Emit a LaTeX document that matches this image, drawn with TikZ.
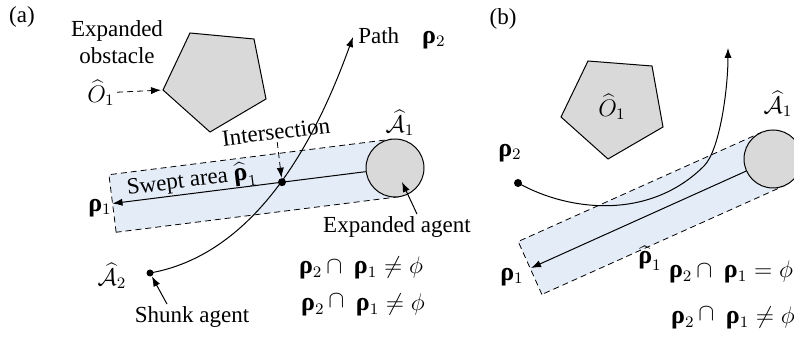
\documentclass[tikz,border=0pt]{standalone}
\usepackage{fontspec}
\setmainfont{Liberation Serif}
\usepackage{tikz}
\usepackage{xcolor}
\usetikzlibrary{arrows.meta,calc}
\definecolor{sweptblue}{RGB}{228,236,248}
\definecolor{shapegray}{RGB}{217,217,217}
\newcommand{\rhob}{{\fontsize{13}{15}\selectfont\textbf{ρ}}}

\begin{document}
\begin{tikzpicture}[x=0.5pt,y=0.5pt,line width=0.5pt,
        lbl/.style={inner sep=1pt,align=center,font=\fontsize{11.5}{13.5}\selectfont},
        obst/.style={draw,fill=shapegray},
        agent/.style={circle,draw,fill=shapegray,minimum size=29pt,inner sep=0pt},
        swept/.style={draw,densely dashed,fill=sweptblue,line width=0.4pt},
        dot/.style={circle,fill,inner sep=0pt,minimum size=#1},
        arrow/.style={-{Latex[length=5pt,width=3.6pt]}},
        dasharrow/.style={arrow,densely dashed,line width=0.4pt}]
        \clip (0,0) rectangle (794,338);
        % (a)
        \node[lbl] (tagA) at (22,321) {(a)};
        \coordinate (pa1) at (190,305);
        \coordinate (pa2) at (254,299);
        \coordinate (pa3) at (266,239);
        \coordinate (pa4) at (210,206);
        \coordinate (pa5) at (163,248);
        \filldraw[obst] (pa1) -- (pa2) -- (pa3) -- (pa4) -- (pa5) -- cycle;
        \begin{scope}[shift={(395,170)},rotate=7.16]
          \filldraw[swept] (-284.7,-29) rectangle (0,29);
        \end{scope}
        \node[agent] (agA) at (395,170) {};
        \coordinate (endA) at (112.5,134.5);
        \draw[arrow] (agA) -- (endA);
        \node[dot=4pt] (isA) at ($(agA.center)!0.4!(endA)$) {};
        \node[dot=3.5pt] (startA) at (150,65) {};
        \coordinate (tipA) at (353,301);
        \draw[arrow] (startA.center) .. controls (268.2,85.8) and (325.6,225.8) .. (tipA);
        \node[lbl] (expO) at (117,296) {Expanded\\obstacle};
        \node[lbl] (oA) at (101,245) {$\widehat{O}_1$};
        \draw[dasharrow,shorten >=1pt] (oA) -- (pa5);
        \node[lbl,rotate=7] (isLbl) at (276,206) {Intersection};
        \draw[dasharrow] (isLbl.south) -- (isA);
        \node[lbl,rotate=7.16] (sweptLbl) at (192,157) {Swept area $\widehat{\mbox{\rhob}}_1$};
        \node[lbl] (rA) at (100,130) {\rhob$_1$};
        \node[lbl] (aA1) at (400,215) {$\widehat{\mathcal{A}}_1$};
        \node[lbl] (pathLbl) at (402,300) {Path\quad\rhob$_2$};
        \node[lbl] (expAg) at (397,111) {Expanded agent};
        \coordinate (inA) at (402,156);
        \draw[arrow] ([xshift=10pt]expAg.north) -- (inA);
        \node[lbl] (aA2) at (112,62) {$\widehat{\mathcal{A}}_2$};
        \node[lbl] (shunk) at (192,21) {Shunk agent};
        \draw[arrow] ([xshift=-12.5pt]shunk.north) -- (startA);
        \node[lbl] (eqA1) at (361,70) {\rhob$_2\,\cap$\ \ \rhob$_1\neq\phi$};
        \node[lbl] (eqA2) at (363,33) {\rhob$_2$\,\raisebox{1.5pt}{$\cap$}\ \ \rhob$_1\neq\phi$};
        % (b)
        \node[lbl] (tagB) at (503,319) {(b)};
        \coordinate (pb1) at (588,277);
        \coordinate (pb2) at (652,272);
        \coordinate (pb3) at (663,211);
        \coordinate (pb4) at (608,179);
        \coordinate (pb5) at (561,221);
        \filldraw[obst] (pb1) -- (pb2) -- (pb3) -- (pb4) -- (pb5) -- cycle;
        \node[lbl] (oB) at (612,231) {$\widehat{O}_1$};
        \begin{scope}[shift={(773,179)},rotate=24.16]
          \filldraw[swept] (-266.3,-29) rectangle (0,29);
        \end{scope}
        \node[agent] (agB) at (773,179) {};
        \coordinate (endB) at (531,70);
        \draw[arrow] (agB) -- (endB);
        \node[dot=4pt] (startB) at (518,155) {};
        \coordinate (tipB) at (728,290);
        \draw[arrow] (startB.center) .. controls (570,126) and (650,118) .. (704,172)
          .. controls (720,188) and (728,250) .. (tipB);
        \node[lbl] (rB2) at (510,185) {\rhob$_2$};
        \node[lbl] (aB1) at (778,234) {$\widehat{\mathcal{A}}_1$};
        \node[lbl] (rB1) at (512,61) {\rhob$_1$};
        \node[lbl] (sweptB) at (650,80) {$\widehat{\mbox{\rhob}}_1$};
        \node[lbl] (eqB1) at (731,66) {\rhob$_2\,\cap$\ \ \rhob$_1=\phi$};
        \node[lbl] (eqB2) at (733,20) {\rhob$_2$\,\raisebox{1.5pt}{$\cap$}\ \ \rhob$_1\neq\phi$};
      \end{tikzpicture}
\end{document}
